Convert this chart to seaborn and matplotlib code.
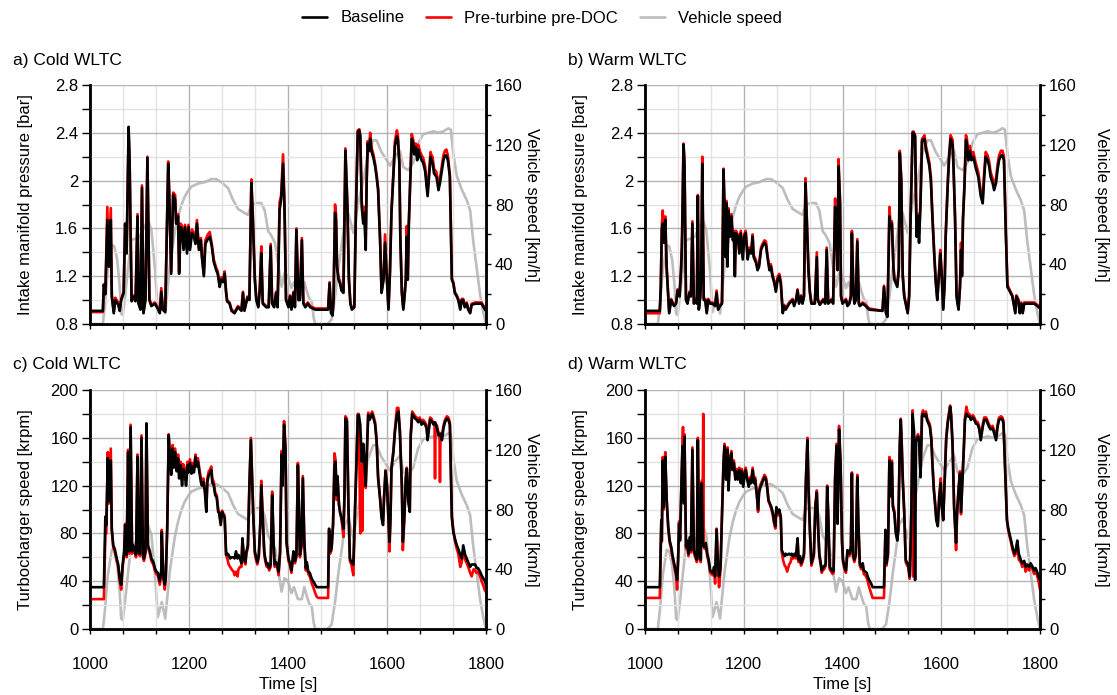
import matplotlib
matplotlib.use("Agg")
import matplotlib.pyplot as plt
import seaborn as sns
from matplotlib.ticker import MultipleLocator, FuncFormatter
from matplotlib.lines import Line2D

# vehicle speed, WLTC 1000-1800 s [km/h]
SPEED_T = [1000, 1026, 1030, 1036, 1044, 1049, 1055, 1060, 1063, 1066, 1070, 1077, 1083, 1090, 1100,
           1110, 1117, 1124, 1131, 1137, 1145, 1152, 1161, 1171, 1178, 1184, 1191, 1198, 1205, 1218,
           1232, 1245, 1255, 1265, 1279, 1289, 1299, 1309, 1319, 1326, 1336, 1346, 1353, 1360, 1365,
           1374, 1380, 1387, 1393, 1400, 1407, 1412, 1420, 1428, 1433, 1438, 1443, 1448, 1452, 1455,
           1480, 1488, 1495, 1502, 1508, 1515, 1522, 1532, 1542, 1552, 1562, 1572, 1579, 1589, 1599,
           1606, 1616, 1626, 1633, 1643, 1653, 1663, 1673, 1683, 1694, 1704, 1714, 1724, 1729, 1734,
           1741, 1751, 1761, 1768, 1774, 1781, 1788, 1795, 1800]
SPEED_V = [0, 0, 12, 36, 53, 52, 43, 25, 7, 6, 16, 38, 56, 57, 58,
           65, 70, 63, 38, 8, 18, 7, 38, 61, 72, 79, 85, 89, 92, 94,
           95, 97, 97, 95, 91, 83, 77, 75, 73, 80, 81, 81, 76, 62, 60,
           54, 40, 25, 34, 32, 24, 28, 20, 20, 28, 22, 17, 15, 4, 0,
           0, 3, 18, 38, 52, 70, 74, 61, 81, 96, 114, 123, 123, 115, 110,
           106, 112, 116, 105, 103, 108, 121, 127, 128, 129, 128, 129, 131, 130, 114,
           99, 90, 83, 76, 56, 38, 20, 7, 0]

# a) cold WLTC, intake manifold pressure [bar]
T_A = [1000, 1026, 1028, 1031, 1035, 1038, 1042, 1044, 1048, 1051, 1057, 1060, 1063, 1068, 1071,
       1074, 1078, 1080, 1084, 1089, 1092, 1096, 1098, 1102, 1105, 1108, 1112, 1116, 1120, 1124,
       1131, 1138, 1141, 1144, 1147, 1152, 1158, 1160, 1164, 1168, 1172, 1174, 1178, 1180, 1183,
       1186, 1189, 1192, 1196, 1199, 1202, 1206, 1210, 1213, 1216, 1220, 1224, 1226, 1230, 1233,
       1238, 1242, 1246, 1250, 1255, 1258, 1262, 1265, 1269, 1272, 1275, 1277, 1282, 1286, 1292,
       1299, 1306, 1309, 1312, 1318, 1322, 1326, 1329, 1333, 1336, 1340, 1343, 1346, 1349, 1356,
       1361, 1365, 1368, 1372, 1376, 1379, 1383, 1386, 1390, 1393, 1396, 1401, 1404, 1407, 1411,
       1414, 1417, 1421, 1424, 1428, 1431, 1435, 1440, 1445, 1450, 1455, 1481, 1484, 1487, 1490,
       1492, 1495, 1497, 1499, 1502, 1505, 1508, 1512, 1516, 1520, 1523, 1526, 1529, 1534, 1537,
       1541, 1544, 1546, 1549, 1552, 1554, 1557, 1559, 1561, 1564, 1566, 1569, 1572, 1576, 1579,
       1582, 1586, 1589, 1593, 1596, 1599, 1603, 1606, 1609, 1613, 1616, 1620, 1622, 1625, 1627,
       1630, 1633, 1636, 1638, 1640, 1642, 1644, 1647, 1650, 1653, 1655, 1658, 1661, 1663, 1667,
       1670, 1673, 1677, 1680, 1682, 1685, 1688, 1690, 1692, 1695, 1700, 1704, 1707, 1710, 1714,
       1717, 1720, 1723, 1727, 1731, 1734, 1737, 1741, 1744, 1748, 1751, 1754, 1757, 1761, 1764,
       1768, 1771, 1778, 1791, 1798, 1800]
BASE_A = [0.91, 0.91, 1.13, 1.05, 1.67, 1.28, 1.67, 1.03, 0.89, 1.00, 0.96, 0.91, 1.00, 1.06, 1.64,
          1.39, 2.45, 2.16, 0.99, 1.03, 0.99, 1.70, 0.97, 0.92, 1.94, 0.89, 1.00, 2.19, 1.00, 0.95,
          0.97, 0.92, 0.89, 1.07, 0.92, 0.90, 2.14, 1.89, 1.22, 1.88, 1.84, 1.64, 1.70, 1.22, 1.61,
          1.59, 1.42, 1.61, 1.39, 1.61, 1.42, 1.56, 1.53, 1.47, 1.64, 1.42, 1.50, 1.36, 1.20, 1.47,
          1.51, 1.53, 1.45, 1.32, 1.25, 1.22, 1.11, 1.17, 1.15, 1.22, 1.06, 0.99, 0.97, 0.91, 0.89,
          0.94, 0.91, 1.06, 0.91, 1.02, 1.00, 1.98, 1.67, 1.17, 1.00, 0.94, 1.08, 1.39, 0.97, 0.94,
          0.94, 1.45, 0.97, 0.94, 1.06, 0.94, 1.75, 1.84, 2.14, 1.75, 1.00, 0.94, 1.03, 0.92, 1.06,
          0.94, 1.59, 1.00, 1.00, 1.50, 0.97, 0.94, 0.97, 0.94, 0.93, 0.92, 0.92, 1.14, 0.89, 0.87,
          1.00, 1.73, 1.67, 1.28, 1.17, 1.14, 1.08, 1.06, 2.25, 1.78, 1.17, 0.97, 0.92, 0.94, 1.70,
          2.41, 2.42, 2.37, 1.78, 1.64, 1.73, 1.42, 2.00, 2.31, 2.25, 2.35, 2.24, 2.20, 2.12, 2.03,
          1.92, 1.50, 1.06, 1.17, 1.48, 1.23, 0.92, 1.23, 1.73, 2.06, 2.29, 2.37, 2.34, 2.14, 1.50,
          1.06, 0.92, 1.06, 1.17, 1.53, 1.17, 1.62, 2.00, 2.35, 2.31, 2.22, 2.28, 2.17, 2.26, 2.20,
          2.17, 2.15, 2.08, 1.95, 1.87, 2.03, 2.20, 2.17, 2.15, 2.06, 2.03, 1.92, 1.98, 2.06, 2.17,
          2.21, 2.21, 2.17, 2.03, 1.17, 1.14, 1.06, 1.03, 1.00, 0.92, 1.00, 1.00, 0.94, 0.97, 0.92,
          0.89, 0.96, 0.97, 0.97, 0.92, 0.91]
PRE_A = [0.90, 0.90, 1.13, 1.05, 1.78, 1.28, 1.77, 1.05, 0.90, 1.02, 0.98, 0.92, 1.01, 1.07, 1.64,
         1.40, 2.40, 2.19, 1.00, 1.04, 1.00, 1.72, 0.98, 0.93, 1.96, 0.90, 1.01, 2.20, 1.01, 0.96,
         0.98, 0.93, 0.90, 1.10, 0.93, 0.91, 2.16, 1.90, 1.24, 1.90, 1.88, 1.66, 1.72, 1.24, 1.64,
         1.62, 1.45, 1.63, 1.42, 1.63, 1.44, 1.59, 1.56, 1.50, 1.67, 1.44, 1.52, 1.38, 1.22, 1.50,
         1.55, 1.57, 1.47, 1.34, 1.27, 1.24, 1.13, 1.19, 1.17, 1.24, 1.07, 1.00, 0.98, 0.92, 0.90,
         0.95, 0.92, 1.07, 0.92, 1.03, 1.01, 2.01, 1.70, 1.19, 1.01, 0.95, 1.10, 1.45, 0.98, 0.95,
         0.95, 1.47, 0.98, 0.95, 1.07, 0.95, 1.82, 1.87, 2.22, 1.80, 1.01, 0.95, 1.04, 0.93, 1.07,
         0.95, 1.60, 1.01, 1.01, 1.52, 0.98, 0.95, 0.98, 0.95, 0.94, 0.93, 0.93, 1.15, 0.90, 0.88,
         1.01, 1.80, 1.72, 1.30, 1.19, 1.16, 1.10, 1.08, 2.27, 1.80, 1.19, 0.98, 0.93, 0.95, 1.72,
         2.42, 2.43, 2.38, 1.82, 1.70, 1.78, 1.52, 2.02, 2.33, 2.28, 2.40, 2.27, 2.23, 2.14, 2.05,
         1.94, 1.52, 1.07, 1.19, 1.55, 1.26, 0.93, 1.25, 1.75, 2.08, 2.33, 2.42, 2.38, 2.16, 1.52,
         1.07, 0.93, 1.07, 1.19, 1.62, 1.19, 1.64, 2.02, 2.39, 2.34, 2.26, 2.31, 2.20, 2.30, 2.24,
         2.21, 2.19, 2.12, 1.99, 1.90, 2.08, 2.24, 2.21, 2.20, 2.10, 2.07, 1.96, 2.02, 2.10, 2.21,
         2.25, 2.26, 2.21, 2.05, 1.18, 1.15, 1.07, 1.04, 1.01, 0.93, 1.01, 1.01, 0.95, 0.98, 0.93,
         0.90, 0.97, 0.98, 0.98, 0.93, 0.92]

# b) warm WLTC, intake manifold pressure [bar]
T_B = [1000, 1030, 1032, 1034, 1036, 1038, 1041, 1044, 1047, 1049, 1053, 1056, 1059, 1063, 1066,
       1070, 1073, 1075, 1078, 1080, 1083, 1086, 1090, 1093, 1096, 1099, 1102, 1105, 1107, 1109,
       1112, 1114, 1116, 1119, 1122, 1125, 1128, 1132, 1137, 1142, 1145, 1148, 1152, 1156, 1159,
       1161, 1163, 1165, 1167, 1169, 1172, 1175, 1178, 1180, 1182, 1184, 1188, 1191, 1194, 1198,
       1201, 1204, 1208, 1211, 1215, 1218, 1220, 1225, 1228, 1231, 1235, 1238, 1242, 1245, 1248,
       1252, 1255, 1258, 1262, 1265, 1269, 1272, 1275, 1279, 1282, 1285, 1292, 1299, 1302, 1306,
       1309, 1312, 1316, 1319, 1322, 1325, 1327, 1331, 1334, 1337, 1344, 1348, 1350, 1354, 1361,
       1365, 1368, 1371, 1378, 1381, 1385, 1387, 1390, 1392, 1395, 1397, 1400, 1407, 1410, 1414,
       1417, 1419, 1422, 1424, 1427, 1430, 1433, 1435, 1441, 1447, 1454, 1481, 1484, 1488, 1491,
       1495, 1497, 1500, 1503, 1505, 1508, 1511, 1514, 1516, 1519, 1522, 1525, 1528, 1532, 1535,
       1538, 1542, 1544, 1547, 1550, 1553, 1555, 1558, 1561, 1563, 1566, 1569, 1572, 1576, 1579,
       1582, 1586, 1589, 1592, 1596, 1598, 1601, 1604, 1607, 1609, 1613, 1616, 1619, 1623, 1625,
       1628, 1631, 1633, 1635, 1638, 1640, 1642, 1644, 1647, 1650, 1652, 1655, 1658, 1661, 1665,
       1669, 1671, 1675, 1680, 1684, 1687, 1690, 1694, 1697, 1700, 1704, 1707, 1711, 1714, 1717,
       1721, 1724, 1727, 1731, 1734, 1738, 1744, 1750, 1752, 1756, 1759, 1762, 1765, 1768, 1775,
       1781, 1788, 1795, 1800]
BASE_B = [0.91, 0.91, 1.11, 1.59, 1.64, 1.48, 1.67, 1.25, 1.03, 0.89, 1.00, 0.97, 0.95, 0.97, 1.08,
          1.03, 1.25, 1.45, 2.30, 2.14, 1.00, 0.97, 1.06, 1.03, 1.64, 0.97, 1.00, 0.97, 1.87, 0.92,
          1.03, 1.25, 2.14, 1.00, 1.00, 0.89, 1.00, 0.97, 0.97, 0.95, 1.06, 0.92, 0.95, 0.97, 2.09,
          1.78, 1.36, 1.81, 1.28, 1.75, 1.53, 1.70, 1.50, 1.56, 1.20, 1.56, 1.53, 1.39, 1.56, 1.34,
          1.53, 1.56, 1.34, 1.42, 1.39, 1.53, 1.36, 1.31, 1.25, 1.28, 1.42, 1.45, 1.48, 1.46, 1.36,
          1.25, 1.28, 1.20, 1.14, 1.07, 1.18, 1.20, 1.14, 0.89, 0.95, 0.92, 0.97, 1.00, 0.95, 1.00,
          1.08, 0.97, 1.03, 0.97, 1.03, 1.98, 1.75, 1.25, 1.06, 0.97, 0.97, 1.36, 1.00, 0.96, 1.00,
          0.97, 1.42, 0.97, 1.00, 0.97, 1.78, 1.70, 1.25, 2.12, 1.81, 1.03, 0.97, 1.00, 0.95, 0.97,
          1.03, 1.56, 1.08, 0.97, 1.00, 1.49, 0.97, 0.95, 0.97, 0.95, 0.92, 0.91, 1.11, 0.89, 0.86,
          1.70, 1.61, 1.64, 1.28, 1.17, 1.14, 1.11, 1.25, 2.23, 2.00, 1.20, 1.03, 0.97, 0.89, 1.03,
          1.70, 2.40, 2.40, 2.37, 1.53, 1.70, 1.48, 1.81, 2.33, 2.34, 2.35, 2.26, 2.20, 2.12, 2.00,
          1.70, 1.36, 1.14, 1.00, 1.25, 1.39, 1.20, 0.92, 1.14, 1.53, 1.95, 2.20, 2.35, 2.30, 2.09,
          1.67, 1.03, 0.97, 0.92, 1.11, 1.42, 1.20, 1.67, 1.95, 2.34, 2.31, 2.17, 2.25, 2.17, 2.20,
          2.12, 2.09, 2.03, 1.87, 1.81, 2.03, 2.20, 2.17, 2.12, 2.03, 1.98, 1.92, 1.98, 2.09, 2.17,
          2.21, 2.21, 2.17, 1.53, 1.11, 1.08, 1.03, 0.89, 1.03, 1.00, 0.89, 0.97, 0.89, 0.97, 0.97,
          0.97, 0.97, 0.95, 0.93]
PRE_B = [0.89, 0.89, 1.11, 1.62, 1.75, 1.50, 1.70, 1.27, 1.05, 0.90, 1.01, 0.98, 0.96, 0.98, 1.09,
         1.04, 1.27, 1.55, 2.31, 2.16, 1.01, 0.98, 1.07, 1.04, 1.66, 0.98, 1.01, 0.98, 1.88, 0.93,
         1.04, 1.27, 2.20, 1.01, 1.01, 0.90, 1.01, 0.98, 0.98, 0.96, 1.08, 0.93, 0.96, 0.98, 2.10,
         1.80, 1.38, 1.83, 1.30, 1.77, 1.55, 1.72, 1.52, 1.58, 1.22, 1.58, 1.55, 1.41, 1.58, 1.36,
         1.55, 1.58, 1.36, 1.44, 1.41, 1.55, 1.38, 1.33, 1.27, 1.30, 1.44, 1.47, 1.50, 1.49, 1.38,
         1.27, 1.30, 1.22, 1.16, 1.09, 1.20, 1.22, 1.16, 0.90, 0.96, 0.93, 0.98, 1.01, 0.96, 1.01,
         1.09, 0.98, 1.04, 0.98, 1.04, 2.02, 1.78, 1.27, 1.07, 0.98, 0.98, 1.40, 1.01, 0.97, 1.01,
         0.98, 1.44, 0.98, 1.01, 0.98, 1.85, 1.72, 1.27, 2.18, 1.83, 1.04, 0.98, 1.01, 0.96, 0.98,
         1.04, 1.58, 1.09, 0.98, 1.01, 1.51, 0.98, 0.96, 0.98, 0.96, 0.93, 0.91, 1.12, 0.90, 0.87,
         1.78, 1.65, 1.66, 1.30, 1.19, 1.16, 1.13, 1.27, 2.25, 2.02, 1.22, 1.04, 0.98, 0.90, 1.04,
         1.72, 2.41, 2.41, 2.38, 1.56, 1.72, 1.55, 1.83, 2.35, 2.36, 2.38, 2.29, 2.23, 2.15, 2.03,
         1.72, 1.38, 1.16, 1.01, 1.27, 1.42, 1.22, 0.93, 1.16, 1.55, 1.97, 2.23, 2.38, 2.34, 2.11,
         1.69, 1.04, 0.98, 0.93, 1.13, 1.48, 1.22, 1.69, 1.97, 2.38, 2.35, 2.21, 2.29, 2.21, 2.24,
         2.16, 2.13, 2.07, 1.91, 1.85, 2.07, 2.24, 2.21, 2.16, 2.07, 2.02, 1.96, 2.02, 2.13, 2.21,
         2.25, 2.25, 2.20, 1.55, 1.13, 1.09, 1.04, 0.90, 1.04, 1.01, 0.90, 0.98, 0.90, 0.98, 0.98,
         0.98, 0.98, 0.96, 0.94]

# c) cold WLTC, turbocharger speed [krpm]
T_C = [1000, 1028, 1031, 1033, 1036, 1038, 1042, 1044, 1047, 1050, 1054, 1057, 1060, 1063, 1066,
       1069, 1071, 1074, 1077, 1079, 1082, 1085, 1087, 1090, 1093, 1096, 1098, 1101, 1104, 1107,
       1109, 1112, 1114, 1117, 1121, 1124, 1128, 1131, 1134, 1137, 1141, 1144, 1145, 1148, 1151,
       1153, 1156, 1159, 1161, 1164, 1167, 1169, 1172, 1175, 1178, 1180, 1183, 1186, 1188, 1191,
       1194, 1197, 1199, 1202, 1205, 1207, 1210, 1213, 1215, 1218, 1221, 1224, 1226, 1229, 1232,
       1235, 1237, 1240, 1242, 1245, 1247, 1250, 1253, 1256, 1259, 1261, 1264, 1267, 1270, 1272,
       1275, 1278, 1280, 1283, 1286, 1290, 1292, 1295, 1298, 1300, 1303, 1306, 1308, 1311, 1314,
       1316, 1319, 1322, 1325, 1328, 1330, 1333, 1336, 1338, 1341, 1344, 1346, 1349, 1352, 1354,
       1357, 1359, 1362, 1365, 1368, 1371, 1373, 1376, 1378, 1381, 1384, 1387, 1389, 1392, 1395,
       1397, 1401, 1404, 1407, 1411, 1414, 1417, 1420, 1422, 1424, 1427, 1430, 1433, 1436, 1438,
       1441, 1444, 1448, 1451, 1455, 1458, 1461, 1481, 1483, 1485, 1488, 1491, 1494, 1496, 1498,
       1500, 1503, 1505, 1508, 1512, 1514, 1516, 1519, 1522, 1525, 1528, 1532, 1535, 1538, 1541,
       1543, 1546, 1549, 1550, 1552, 1554, 1557, 1560, 1562, 1565, 1568, 1570, 1573, 1576, 1579,
       1582, 1586, 1589, 1592, 1594, 1597, 1600, 1603, 1605, 1607, 1609, 1613, 1616, 1620, 1623,
       1626, 1630, 1632, 1635, 1638, 1640, 1643, 1646, 1648, 1651, 1654, 1657, 1660, 1663, 1666,
       1670, 1673, 1677, 1680, 1682, 1685, 1687, 1690, 1694, 1696, 1697, 1698, 1701, 1704, 1706,
       1707, 1708, 1711, 1714, 1717, 1721, 1724, 1727, 1731, 1734, 1737, 1741, 1744, 1748, 1751,
       1754, 1758, 1761, 1764, 1768, 1771, 1775, 1778, 1781, 1784, 1788, 1791, 1795, 1798, 1800]
BASE_C = [35, 35, 94, 87, 143, 107, 141, 84, 70, 67, 59, 54, 42, 37, 54,
          65, 87, 62, 148, 65, 169, 65, 70, 67, 62, 144, 65, 63, 160, 62,
          59, 65, 172, 70, 65, 59, 56, 51, 48, 47, 40, 49, 81, 45, 37,
          43, 84, 162, 146, 129, 151, 135, 148, 132, 143, 126, 137, 120, 134, 132,
          120, 137, 131, 139, 130, 136, 131, 144, 136, 140, 131, 123, 120, 123, 115,
          98, 123, 129, 130, 133, 123, 120, 112, 110, 98, 97, 87, 98, 95, 93,
          62, 63, 62, 59, 60, 60, 59, 65, 59, 62, 59, 55, 76, 59, 56,
          65, 70, 120, 158, 120, 93, 65, 59, 56, 62, 87, 120, 93, 65, 59,
          54, 55, 51, 54, 112, 71, 54, 56, 54, 48, 65, 146, 120, 171, 150,
          73, 59, 55, 49, 65, 57, 62, 137, 104, 62, 70, 126, 73, 51, 56,
          48, 47, 42, 40, 37, 35, 35, 35, 84, 65, 68, 87, 137, 140, 112,
          128, 104, 98, 93, 84, 110, 176, 174, 104, 59, 56, 54, 93, 134, 179,
          179, 171, 140, 145, 155, 143, 120, 155, 179, 175, 178, 180, 176, 171, 157,
          126, 109, 93, 87, 109, 132, 120, 93, 73, 93, 134, 148, 165, 179, 182,
          165, 120, 73, 93, 126, 134, 107, 98, 162, 180, 178, 176, 175, 173, 175,
          171, 173, 171, 168, 158, 168, 175, 174, 171, 173, 173, 172, 168, 162, 163,
          163, 163, 158, 168, 173, 176, 175, 171, 93, 81, 76, 70, 67, 62, 59,
          70, 62, 59, 56, 52, 54, 54, 54, 51, 51, 48, 45, 42, 40, 37]
PRE_C = [25, 25, 79, 80, 148, 105, 151, 82, 68, 65, 57, 52, 40, 33, 52,
         63, 88, 60, 150, 63, 171, 63, 68, 65, 60, 146, 63, 61, 162, 60,
         57, 63, 172, 68, 63, 57, 54, 49, 46, 45, 37, 47, 83, 43, 33,
         41, 86, 163, 148, 132, 154, 138, 151, 136, 146, 130, 140, 124, 138, 135,
         124, 140, 134, 142, 133, 139, 134, 146, 139, 143, 134, 126, 123, 126, 118,
         100, 126, 132, 133, 136, 126, 123, 114, 112, 100, 98, 89, 99, 96, 95,
         62, 58, 54, 52, 50, 48, 45, 48, 44, 50, 52, 52, 74, 57, 54,
         63, 68, 120, 160, 122, 95, 63, 57, 54, 60, 90, 124, 95, 63, 57,
         52, 53, 49, 52, 115, 70, 52, 54, 52, 45, 63, 149, 122, 174, 152,
         72, 57, 53, 47, 63, 55, 60, 139, 105, 60, 68, 128, 71, 49, 54,
         46, 44, 38, 35, 30, 27, 26, 26, 82, 63, 66, 88, 147, 142, 108,
         127, 104, 98, 92, 77, 110, 178, 176, 105, 57, 54, 45, 95, 136, 180,
         180, 80, 138, 82, 150, 145, 118, 157, 181, 177, 180, 182, 178, 173, 159,
         128, 110, 94, 90, 110, 133, 121, 92, 65, 90, 135, 150, 167, 185, 185,
         167, 120, 66, 92, 127, 135, 108, 99, 164, 182, 180, 178, 177, 175, 177,
         173, 175, 173, 170, 160, 170, 177, 176, 172, 172, 126, 172, 170, 164, 164,
         123, 164, 161, 170, 175, 178, 177, 173, 95, 83, 74, 67, 63, 52, 56,
         66, 58, 55, 52, 47, 44, 50, 49, 47, 48, 44, 40, 36, 32, 31]

# d) warm WLTC, turbocharger speed [krpm]
T_D = [1000, 1030, 1033, 1034, 1036, 1038, 1040, 1041, 1044, 1047, 1050, 1053, 1056, 1059, 1063,
       1065, 1067, 1069, 1071, 1074, 1076, 1077, 1079, 1080, 1083, 1085, 1088, 1091, 1093, 1096,
       1099, 1101, 1105, 1107, 1110, 1113, 1115, 1117, 1118, 1119, 1121, 1123, 1126, 1129, 1132,
       1135, 1137, 1140, 1142, 1145, 1148, 1150, 1153, 1156, 1159, 1161, 1164, 1167, 1169, 1172,
       1175, 1177, 1180, 1183, 1186, 1188, 1191, 1194, 1196, 1199, 1202, 1204, 1207, 1210, 1213,
       1215, 1218, 1221, 1223, 1226, 1229, 1231, 1234, 1237, 1240, 1242, 1245, 1248, 1250, 1253,
       1256, 1259, 1261, 1264, 1266, 1269, 1272, 1275, 1277, 1280, 1283, 1285, 1288, 1292, 1295,
       1297, 1300, 1303, 1306, 1309, 1311, 1314, 1316, 1319, 1322, 1326, 1329, 1331, 1334, 1337,
       1339, 1342, 1345, 1348, 1350, 1353, 1356, 1358, 1361, 1363, 1366, 1369, 1371, 1374, 1377,
       1380, 1382, 1385, 1388, 1390, 1393, 1396, 1399, 1401, 1404, 1407, 1410, 1414, 1417, 1419,
       1421, 1424, 1427, 1430, 1432, 1435, 1438, 1441, 1443, 1446, 1449, 1451, 1454, 1458, 1461,
       1484, 1487, 1489, 1492, 1495, 1497, 1500, 1502, 1505, 1508, 1511, 1513, 1516, 1518, 1520,
       1522, 1525, 1528, 1531, 1533, 1536, 1539, 1542, 1543, 1545, 1547, 1549, 1550, 1553, 1555,
       1558, 1561, 1563, 1566, 1569, 1571, 1574, 1577, 1580, 1582, 1585, 1588, 1590, 1593, 1596,
       1599, 1601, 1604, 1607, 1610, 1613, 1616, 1618, 1620, 1623, 1626, 1630, 1632, 1635, 1638,
       1640, 1643, 1646, 1648, 1651, 1654, 1657, 1660, 1664, 1667, 1670, 1674, 1677, 1680, 1684,
       1687, 1691, 1694, 1697, 1700, 1704, 1707, 1711, 1714, 1717, 1721, 1724, 1726, 1730, 1733,
       1735, 1738, 1741, 1744, 1748, 1751, 1754, 1757, 1761, 1764, 1768, 1771, 1774, 1778, 1781,
       1785, 1788, 1791, 1794, 1797, 1800]
BASE_D = [35, 35, 91, 74, 141, 102, 136, 144, 108, 86, 74, 69, 61, 55, 47,
          41, 58, 88, 74, 125, 153, 150, 105, 161, 69, 74, 63, 77, 66, 150,
          66, 63, 58, 158, 61, 58, 122, 72, 70, 69, 69, 72, 63, 58, 49,
          48, 47, 52, 44, 83, 52, 44, 52, 97, 139, 153, 125, 150, 116, 141,
          147, 133, 139, 125, 132, 125, 133, 122, 132, 119, 130, 133, 125, 119, 125,
          122, 133, 122, 125, 114, 100, 114, 119, 122, 125, 127, 125, 116, 108, 105,
          102, 97, 91, 86, 102, 97, 100, 94, 66, 63, 61, 63, 62, 63, 62,
          63, 61, 63, 61, 76, 58, 61, 55, 58, 63, 125, 158, 119, 83, 55,
          58, 63, 102, 114, 91, 63, 55, 49, 52, 52, 55, 119, 97, 52, 50,
          48, 49, 125, 153, 88, 167, 139, 74, 58, 52, 49, 66, 63, 69, 130,
          63, 58, 63, 127, 91, 55, 52, 55, 49, 48, 47, 44, 41, 38, 35,
          35, 83, 55, 63, 141, 111, 139, 102, 97, 80, 74, 83, 153, 175, 153,
          125, 97, 58, 55, 55, 44, 86, 180, 175, 165, 41, 158, 158, 161, 158,
          127, 178, 180, 178, 180, 175, 172, 169, 158, 139, 116, 102, 91, 86, 111,
          122, 102, 91, 125, 158, 172, 180, 186, 178, 153, 102, 72, 97, 116, 130,
          98, 125, 153, 175, 180, 178, 178, 175, 177, 175, 172, 171, 167, 158, 169,
          175, 175, 172, 169, 167, 168, 164, 158, 169, 175, 176, 175, 172, 125, 91,
          86, 80, 75, 69, 63, 66, 74, 63, 58, 55, 57, 52, 54, 52, 55,
          52, 49, 51, 48, 44, 41]
PRE_D = [26, 26, 89, 73, 144, 100, 138, 148, 106, 84, 72, 67, 59, 53, 44,
         33, 56, 90, 76, 127, 158, 169, 107, 163, 67, 72, 61, 75, 64, 152,
         64, 61, 56, 160, 59, 56, 124, 120, 180, 70, 67, 70, 61, 56, 47,
         46, 45, 50, 38, 84, 50, 35, 50, 98, 141, 155, 127, 152, 118, 143,
         149, 135, 141, 127, 134, 127, 135, 124, 134, 121, 132, 135, 127, 121, 127,
         124, 135, 124, 127, 116, 98, 116, 121, 124, 127, 129, 127, 118, 107, 104,
         100, 95, 89, 84, 100, 95, 98, 92, 64, 57, 53, 52, 48, 54, 56,
         60, 59, 60, 59, 74, 56, 59, 53, 56, 61, 127, 160, 121, 81, 53,
         56, 61, 104, 116, 90, 61, 53, 47, 50, 50, 53, 120, 96, 50, 48,
         46, 47, 128, 155, 90, 170, 140, 72, 56, 50, 47, 64, 61, 67, 131,
         61, 56, 61, 129, 90, 53, 50, 53, 46, 45, 43, 40, 35, 30, 26,
         26, 82, 53, 61, 144, 113, 141, 104, 99, 82, 76, 85, 155, 176, 155,
         127, 99, 56, 53, 52, 42, 88, 183, 44, 150, 160, 160, 160, 163, 160,
         129, 180, 183, 180, 182, 177, 174, 171, 160, 140, 118, 104, 93, 88, 112,
         126, 104, 93, 127, 160, 174, 182, 187, 180, 155, 104, 66, 95, 118, 132,
         96, 127, 155, 177, 186, 180, 180, 177, 179, 177, 174, 173, 169, 160, 171,
         177, 177, 174, 171, 169, 170, 166, 160, 171, 177, 178, 177, 174, 127, 93,
         84, 78, 73, 67, 61, 63, 72, 58, 56, 52, 55, 48, 52, 49, 53,
         50, 46, 49, 45, 40, 33]

TITLES = ["a) Cold WLTC", "b) Warm WLTC", "c) Cold WLTC", "d) Warm WLTC"]

sns.set_style("white")
plt.rcParams["font.family"] = ["Liberation Sans", "DejaVu Sans"]
plt.rcParams["font.size"] = 12
for key in ("text.color", "axes.labelcolor", "xtick.color", "ytick.color"):
    plt.rcParams[key] = "black"

BLACK = "#000000"
RED = "#ff0000"
GREY = "#bdbdbd"
LW = 1.9

fig = plt.figure(figsize=(11.17, 6.95), dpi=100)

W, H = 1117, 695
boxes = [(90, 85, 486, 324), (645, 85, 1040, 324), (90, 390, 486, 629), (645, 390, 1040, 629)]
panels = [(T_A, BASE_A, PRE_A), (T_B, BASE_B, PRE_B), (T_C, BASE_C, PRE_C), (T_D, BASE_D, PRE_D)]
right_label_x = [1.114, 1.155, 1.114, 1.155]


def fmt(v, pos):
    return f"{v:g}"


for i, (box, (t, base, pre)) in enumerate(zip(boxes, panels)):
    x0, y0, x1, y1 = box
    ax = fig.add_axes([x0 / W, 1 - y1 / H, (x1 - x0) / W, (y1 - y0) / H])
    ax2 = ax.twinx()
    ax.set_zorder(ax2.get_zorder() + 1)
    ax.patch.set_visible(False)

    sns.lineplot(x=SPEED_T, y=SPEED_V, ax=ax2, color=GREY, lw=LW, estimator=None, sort=False)
    sns.lineplot(x=t, y=pre, ax=ax, color=RED, lw=LW, estimator=None, sort=False)
    sns.lineplot(x=t, y=base, ax=ax, color=BLACK, lw=LW, estimator=None, sort=False)

    ax.set_xlim(1000, 1800)
    ax.xaxis.set_major_locator(MultipleLocator(200))
    ax.xaxis.set_minor_locator(MultipleLocator(200 / 3))
    if i < 2:
        ax.set_ylim(0.8, 2.8)
        ax.yaxis.set_major_locator(MultipleLocator(0.4))
        ax.yaxis.set_minor_locator(MultipleLocator(0.2))
        ax.set_ylabel("Intake manifold pressure [bar]")
        ax.set_xticklabels([])
        ax.set_xlabel("")
    else:
        ax.set_ylim(0, 200)
        ax.yaxis.set_major_locator(MultipleLocator(40))
        ax.yaxis.set_minor_locator(MultipleLocator(20))
        ax.set_ylabel("Turbocharger speed [krpm]")
        ax.set_xlabel("Time [s]", labelpad=3)
    ax.yaxis.set_major_formatter(FuncFormatter(fmt))
    ax.yaxis.set_label_coords(-0.145, 0.5)

    ax2.set_ylim(0, 160)
    ax2.yaxis.set_major_locator(MultipleLocator(40))
    ax2.yaxis.set_minor_locator(MultipleLocator(20))
    ax2.set_ylabel("Vehicle speed [km/h]", rotation=270, va="center")
    ax2.yaxis.set_label_coords(right_label_x[i], 0.5)
    ax2.set_xlabel("")

    ax.grid(which="major", color="#b4b4b4", lw=1.0)
    ax.grid(which="minor", color="#e2e2e2", lw=1.0)
    ax.set_axisbelow(True)

    for a in (ax, ax2):
        a.spines["top"].set_visible(False)
        for s in ("left", "bottom", "right"):
            a.spines[s].set_color("black")
            a.spines[s].set_linewidth(1.8)
    ax.tick_params(axis="y", which="both", direction="out", left=True, length=5.5, width=1.0, pad=3, labelsize=12)
    ax.tick_params(axis="x", which="both", direction="out", bottom=True, length=3.5, width=1.0, pad=17, labelsize=12)
    ax2.tick_params(axis="y", which="both", direction="out", right=True, length=3.5, width=1.0, pad=3, labelsize=12)

    fig.text((x0 - 77) / W, 1 - (y0 - 25) / H, TITLES[i], ha="left", va="center", fontsize=12.5)

handles = [Line2D([], [], color=BLACK, lw=1.9), Line2D([], [], color=RED, lw=1.9), Line2D([], [], color=GREY, lw=1.9)]
fig.legend(handles, ["Baseline", "Pre-turbine pre-DOC", "Vehicle speed"], loc="center",
           bbox_to_anchor=(542 / W, 1 - 18 / H), ncol=3, frameon=False, fontsize=12,
           handlelength=1.5, columnspacing=1.3, handletextpad=0.8)

fig.savefig("out.png", dpi=100)
